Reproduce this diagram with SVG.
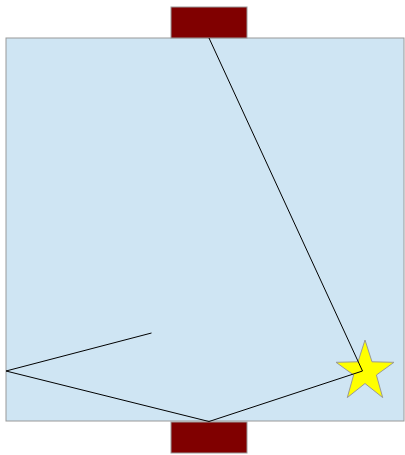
<svg xmlns="http://www.w3.org/2000/svg" width="405" height="455" viewBox="0 0 405 455">
<style>
.port{fill:#800000;stroke:#999999;stroke-width:1}
.ray{fill:none;stroke:#000000;stroke-width:1}
</style>
<rect width="405" height="455" fill="#ffffff"/>
<g id="room"><rect x="6" y="38" width="398" height="383" fill="#cfe5f3" stroke="#999999" stroke-width="1"/></g>
<g id="top-port"><rect class="port" x="171" y="7" width="76" height="31"/></g>
<g id="bottom-port"><rect class="port" x="171" y="422" width="76" height="31"/></g>
<g id="star"><polygon points="365,340 372,361.8 394,362.3 376.4,375 382.7,397.6 365,383.5 347.3,397.6 353.6,375 336,362.3 358,361.8" fill="#ffff00" stroke="#999999" stroke-width="1"/></g>
<g id="connectors">
<polyline class="ray" points="209,38 362.5,371 209,421.5 6,371 151.5,333"/>
</g>
</svg>
